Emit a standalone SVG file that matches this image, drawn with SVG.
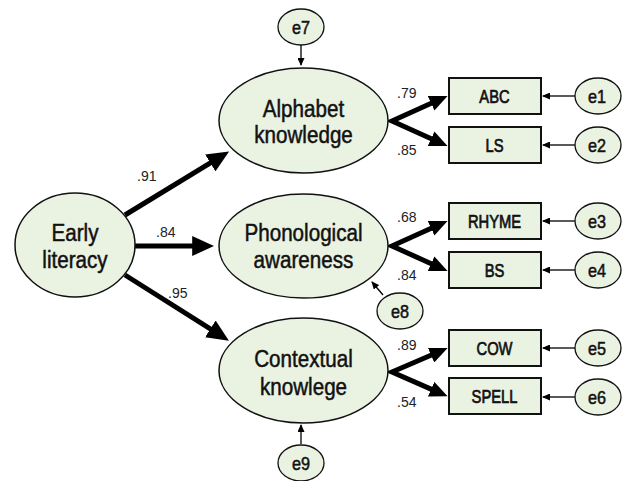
<svg xmlns="http://www.w3.org/2000/svg" width="626" height="481" viewBox="0 0 626 481">
<defs>
<style>
.lat{fill:#eaf2e2;stroke:#111;stroke-width:1.5}
.box{fill:#eaf2e2;stroke:#111;stroke-width:2}
.err{fill:#eaf2e2;stroke:#111;stroke-width:1.3}
.big{font-family:"Liberation Sans",Arial,sans-serif;font-size:24px;fill:#111;stroke:#111;stroke-width:0.5;text-anchor:middle}
.mid{font-family:"Liberation Sans",Arial,sans-serif;font-size:18px;fill:#111;stroke:#111;stroke-width:0.7;text-anchor:middle}
.sm{font-family:"Liberation Sans",Arial,sans-serif;font-size:18px;fill:#111;stroke:#111;stroke-width:0.5;text-anchor:middle}
.coef{font-family:"Liberation Sans",Arial,sans-serif;font-size:14px;fill:#222}
.thick{fill:none;stroke:#000;stroke-width:5;stroke-linejoin:miter;stroke-miterlimit:10}
.thin{fill:none;stroke:#000;stroke-width:1.3}
</style>
<marker id="hb" markerUnits="userSpaceOnUse" markerWidth="22" markerHeight="20" viewBox="0 0 20 18" refX="8" refY="9" orient="auto-start-reverse"><path d="M0,0 L20,9 L0,18 Z" fill="#000"/></marker>
<marker id="hm" markerUnits="userSpaceOnUse" markerWidth="18" markerHeight="16" viewBox="0 0 17 15" refX="7" refY="7.5" orient="auto-start-reverse"><path d="M0,0 L17,7.5 L0,15 Z" fill="#000"/></marker>
<marker id="hs" markerUnits="userSpaceOnUse" markerWidth="8" markerHeight="7" viewBox="0 0 8 7" refX="7" refY="3.5" orient="auto"><path d="M0,0 L8,3.5 L0,7 Z" fill="#000"/></marker>
</defs>

<g id="connectors">
<path class="thick" d="M125,215 L217.8,158.3" marker-end="url(#hb)"/>
<path class="thick" d="M135,246 L201,246" marker-end="url(#hb)"/>
<path class="thick" d="M125,275 L217.8,333.6" marker-end="url(#hb)"/>
<path class="thick" d="M437.9,100.3 L392,121 L437.9,141.7" marker-start="url(#hm)" marker-end="url(#hm)"/>
<path class="thick" d="M437.9,225.3 L392,246 L437.9,266.7" marker-start="url(#hm)" marker-end="url(#hm)"/>
<path class="thick" d="M437.9,352.3 L392,372 L437.9,392.1" marker-start="url(#hm)" marker-end="url(#hm)"/>
<path class="thin" d="M575,96 L543,96" marker-end="url(#hs)"/>
<path class="thin" d="M575,145 L543,145" marker-end="url(#hs)"/>
<path class="thin" d="M575,221 L543,221" marker-end="url(#hs)"/>
<path class="thin" d="M575,270 L543,270" marker-end="url(#hs)"/>
<path class="thin" d="M575,348 L543,348" marker-end="url(#hs)"/>
<path class="thin" d="M575,397 L543,397" marker-end="url(#hs)"/>
<path class="thin" d="M301,45 L301,65" marker-end="url(#hs)"/>
<path class="thin" d="M301,444 L301,425" marker-end="url(#hs)"/>
<path class="thin" d="M383,295 L372,282" marker-end="url(#hs)"/>
<text class="coef" x="137" y="181">.91</text>
<text class="coef" x="156" y="237">.84</text>
<text class="coef" x="168" y="298">.95</text>
<text class="coef" x="397" y="98">.79</text>
<text class="coef" x="397" y="155">.85</text>
<text class="coef" x="397" y="222">.68</text>
<text class="coef" x="397" y="280">.84</text>
<text class="coef" x="397" y="350">.89</text>
<text class="coef" x="397" y="407">.54</text>
</g>

<g id="early"><ellipse class="lat" cx="75" cy="245" rx="60" ry="52"/><text class="big" transform="translate(75,241) scale(0.86,1)">Early</text><text class="big" transform="translate(75,268) scale(0.86,1)">literacy</text></g>
<g id="alphabet"><ellipse class="lat" cx="303.5" cy="120.5" rx="84.5" ry="52.5"/><text class="big" transform="translate(303.5,117) scale(0.86,1)">Alphabet</text><text class="big" transform="translate(303.5,143) scale(0.86,1)">knowledge</text></g>
<g id="phonological"><ellipse class="lat" cx="303.5" cy="246" rx="84.5" ry="52"/><text class="big" transform="translate(303.5,241) scale(0.86,1)">Phonological</text><text class="big" transform="translate(303.5,268) scale(0.86,1)">awareness</text></g>
<g id="contextual"><ellipse class="lat" cx="303.5" cy="370.5" rx="84.5" ry="52.5"/><text class="big" transform="translate(303.5,367) scale(0.86,1)">Contextual</text><text class="big" transform="translate(303.5,395) scale(0.86,1)">knowlege</text></g>

<g id="abc"><rect class="box" x="449" y="78" width="92" height="36"/><text class="mid" transform="translate(494.5,103) scale(0.82,1)">ABC</text></g>
<g id="ls"><rect class="box" x="449" y="127" width="92" height="36"/><text class="mid" transform="translate(494.5,152) scale(0.82,1)">LS</text></g>
<g id="rhyme"><rect class="box" x="449" y="203" width="92" height="36"/><text class="mid" transform="translate(494.5,228) scale(0.82,1)">RHYME</text></g>
<g id="bs"><rect class="box" x="449" y="252" width="92" height="36"/><text class="mid" transform="translate(494.5,277) scale(0.82,1)">BS</text></g>
<g id="cow"><rect class="box" x="449" y="330" width="92" height="36"/><text class="mid" transform="translate(494.5,355) scale(0.82,1)">COW</text></g>
<g id="spell"><rect class="box" x="449" y="378" width="92" height="36"/><text class="mid" transform="translate(494.5,403) scale(0.82,1)">SPELL</text></g>

<g id="e1"><ellipse class="err" cx="598" cy="96" rx="23" ry="18"/><text class="sm" transform="translate(597,102.5) scale(0.9,1)">e1</text></g>
<g id="e2"><ellipse class="err" cx="598" cy="145" rx="23" ry="18"/><text class="sm" transform="translate(597,151.5) scale(0.9,1)">e2</text></g>
<g id="e3"><ellipse class="err" cx="598" cy="221" rx="23" ry="18"/><text class="sm" transform="translate(597,227.5) scale(0.9,1)">e3</text></g>
<g id="e4"><ellipse class="err" cx="598" cy="270" rx="23" ry="18"/><text class="sm" transform="translate(597,276.5) scale(0.9,1)">e4</text></g>
<g id="e5"><ellipse class="err" cx="598" cy="348" rx="23" ry="18"/><text class="sm" transform="translate(597,354.5) scale(0.9,1)">e5</text></g>
<g id="e6"><ellipse class="err" cx="598" cy="397" rx="23" ry="18"/><text class="sm" transform="translate(597,403.5) scale(0.9,1)">e6</text></g>
<g id="e7"><ellipse class="err" cx="301" cy="27" rx="23" ry="18"/><text class="sm" transform="translate(301,33.5) scale(0.9,1)">e7</text></g>
<g id="e8"><ellipse class="err" cx="400" cy="311" rx="23" ry="18"/><text class="sm" transform="translate(400,317.5) scale(0.9,1)">e8</text></g>
<g id="e9"><ellipse class="err" cx="301" cy="463" rx="23" ry="18"/><text class="sm" transform="translate(301,469.5) scale(0.9,1)">e9</text></g>
</svg>
